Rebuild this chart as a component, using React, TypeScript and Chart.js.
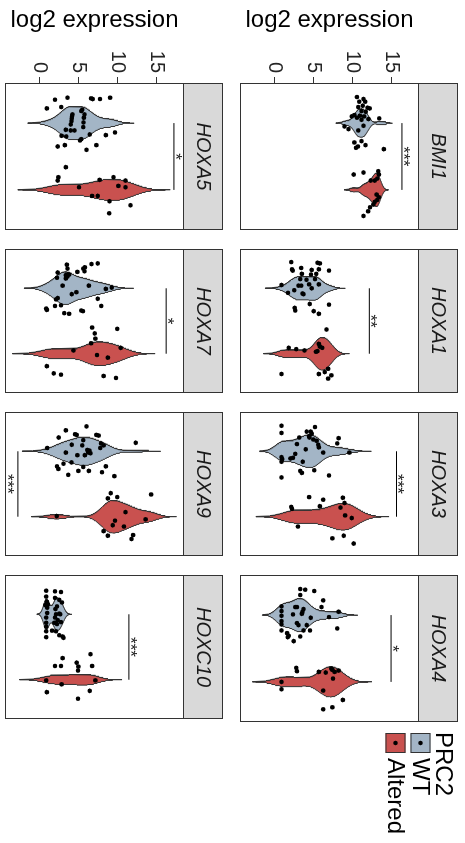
import React, { useEffect, useRef } from "react";
import { Chart, registerables } from "chart.js";

Chart.register(...registerables);

const FONT = "'Liberation Sans', Arial, Helvetica, sans-serif";

// ---------------- data ----------------
const GENES = ["BMI1", "HOXA1", "HOXA3", "HOXA4", "HOXA5", "HOXA7", "HOXA9", "HOXC10"];
const GROUPS = ["WT", "Altered"];
const GROUP_COLORS = ["#A3B5C6", "#C9514F"];
const LEGEND_TITLE = "PRC2";
const Y_TITLE = "log2 expression";
const Y_TICKS = [0, 5, 10, 15];
const Y_MIN = -4.46;
const Y_MAX = 18.6;

// expression values (log2) and horizontal jitter offsets of each sample
const BMI1_WT = [10.6, 11.45, 10.9, 11.66, 11.36, 10.77, 11.96, 12.25, 11.2, 11.74, 10.27, 10.98, 11.53, 9.93, 10.6, 11.2, 13.48, 12.08, 9.0, 9.51, 10.77, 11.45, 10.27, 10.73, 11.7, 10.48, 14.07, 11.2];
const BMI1_WT_J = [-0.39, -0.36, -0.32, -0.32, -0.26, -0.24, -0.23, -0.22, -0.18, -0.17, -0.12, -0.11, -0.1, -0.1, -0.08, -0.05, -0.07, -0.06, 0.05, 0.09, 0.11, 0.04, 0.29, 0.35, 0.33, 0.37, 0.39, 0.27];
const BMI1_ALT = [10.18, 11.45, 13.35, 13.43, 13.22, 12.89, 12.38, 13.14, 13.43, 13.22, 12.89, 12.72, 12.29, 12.04, 11.45];
const BMI1_ALT_J = [-0.23, -0.26, -0.28, -0.23, -0.17, -0.14, -0.14, 0.07, 0.11, 0.15, 0.18, 0.22, 0.26, 0.32, 0.39];

const HOXA1_WT = [2.15, 5.53, 5.83, 2.24, 3.42, 4.77, 5.7, 7.01, 2.32, 3.51, 4.69, 5.37, 3.3, 4.1, 5.2, 0.89, 3.08, 3.42, 4.44, 5.7, 2.53, 4.77, 1.73, 3.59, 3.72, 4.52, 7.01, 2.58, 2.66, 5.03, 5.7];
const HOXA1_WT_J = [-0.4, -0.39, -0.38, -0.29, -0.31, -0.28, -0.29, -0.27, -0.27, -0.22, -0.21, -0.22, -0.14, -0.13, -0.14, -0.05, -0.04, -0.04, -0.06, -0.06, 0.03, 0.0, 0.07, 0.08, 0.09, 0.24, 0.25, 0.3, 0.34, 0.35, 0.39];
const HOXA1_ALT = [6.68, 1.82, 2.79, 3.84, 5.7, 5.83, 6.13, 5.53, 5.32, 0.89, 5.7, 6.46, 6.89, 7.31, 6.89];
const HOXA1_ALT_J = [-0.37, -0.09, -0.07, -0.05, -0.15, -0.11, -0.09, -0.04, -0.03, 0.31, 0.31, 0.28, 0.23, 0.33, 0.38];

const HOXA3_WT = [0.89, 0.89, 5.2, 4.14, 4.65, 4.77, 3.17, 4.48, 4.99, 8.24, 8.07, 2.87, 5.62, 5.7, 4.01, 6.25, 2.66, 0.89, 0.97, 2.03, 2.37, 0.89, 3.63, 9.63, 5.11, 3.3, 3.51, 0.89, 7.01, 4.44, 5.41];
const HOXA3_WT_J = [-0.39, -0.28, -0.37, -0.3, -0.3, -0.27, -0.21, -0.21, -0.18, -0.2, -0.12, -0.11, -0.1, -0.06, -0.03, 0.02, 0.04, 0.09, 0.12, 0.11, 0.1, 0.16, 0.16, 0.02, 0.29, 0.3, 0.33, 0.4, 0.37, -0.23, -0.16];
const HOXA3_ALT = [4.44, 6.25, 2.15, 2.24, 5.83, 8.79, 9.0, 8.49, 9.08, 9.93, 3.0, 8.91, 7.44, 10.18];
const HOXA3_ALT_J = [-0.3, -0.26, -0.15, -0.12, -0.16, -0.29, -0.21, -0.14, -0.02, 0.02, 0.15, 0.29, 0.33, 0.41];

const HOXA4_WT = [3.3, 3.93, 5.11, 3.3, 6.25, 6.04, 0.89, 2.66, 2.87, 3.72, 3.59, 3.51, 0.89, 0.89, 2.37, 4.65, 8.24, 7.01, 0.89, 0.89, 2.87, 3.08, 4.14, 8.07, 0.89, 3.72, 4.56, 1.61, 1.82, 1.69, 3.3, 2.45];
const HOXA4_WT_J = [-0.39, -0.38, -0.36, -0.3, -0.22, -0.12, -0.13, -0.12, -0.12, -0.09, -0.05, -0.02, -0.06, 0.01, -0.01, 0.04, -0.05, 0.03, 0.09, 0.14, 0.12, 0.15, 0.15, 0.2, 0.23, 0.23, 0.23, 0.27, 0.31, 0.33, 0.32, 0.39];
const HOXA4_ALT = [2.79, 2.87, 5.7, 6.59, 7.31, 7.44, 8.24, 7.73, 7.52, 0.89, 0.89, 6.25, 8.79, 7.44, 6.25];
const HOXA4_ALT_J = [-0.21, -0.16, -0.15, -0.14, -0.2, -0.18, -0.17, -0.15, -0.05, 0.0, 0.11, 0.13, 0.27, 0.38, 0.41];

const HOXA5_WT = [1.99, 3.59, 6.63, 6.84, 7.77, 9.08, 0.93, 2.79, 5.49, 5.37, 4.22, 4.18, 4.14, 4.1, 4.01, 5.79, 5.7, 5.66, 5.62, 3.38, 4.01, 4.48, 2.83, 3.42, 6.46, 8.53, 9.72, 5.37, 5.2, 2.32, 3.25, 7.31, 6.04];
const HOXA5_WT_J = [-0.35, -0.38, -0.37, -0.36, -0.36, -0.38, -0.22, -0.24, -0.2, -0.18, -0.13, -0.1, -0.07, -0.03, 0.02, -0.13, -0.08, -0.01, 0.06, 0.1, 0.11, 0.11, 0.19, 0.2, 0.17, 0.18, 0.14, 0.24, 0.26, 0.35, 0.33, 0.33, 0.4];
const HOXA5_ALT = [3.38, 2.41, 2.32, 5.07, 7.73, 9.51, 11.07, 10.14, 11.07, 6.76, 7.48, 9.0, 11.7, 8.96];
const HOXA5_ALT_J = [-0.34, -0.19, -0.14, -0.04, -0.15, -0.19, -0.14, -0.06, -0.04, 0.09, 0.09, 0.17, 0.23, 0.35];

const HOXA7_WT = [3.51, 3.59, 6.68, 7.48, 5.83, 5.62, 5.79, 4.86, 2.32, 3.8, 3.38, 2.24, 3.38, 3.59, 2.96, 6.34, 8.53, 9.29, 2.32, 2.11, 4.14, 4.73, 7.48, 0.84, 0.93, 1.99, 2.75, 7.94, 3.17, 3.8, 5.37, 5.58, 3.59];
const HOXA7_WT_J = [-0.36, -0.3, -0.37, -0.38, -0.32, -0.3, -0.26, -0.25, -0.24, -0.21, -0.2, -0.16, -0.15, -0.18, -0.04, -0.04, 0.01, -0.01, 0.15, 0.17, 0.09, 0.06, 0.16, 0.31, 0.33, 0.27, 0.26, 0.27, 0.38, 0.39, 0.34, 0.35, -0.21];
const HOXA7_ALT = [6.76, 10.01, 7.1, 7.18, 6.63, 4.35, 7.39, 8.79, 10.44, 0.93, 1.82, 2.75, 8.24, 9.84];
const HOXA7_ALT_J = [-0.4, -0.38, -0.31, -0.23, -0.16, -0.05, 0.02, 0.06, -0.09, 0.19, 0.3, 0.32, 0.34, 0.37];

const HOXA9_WT = [3.38, 6.04, 2.45, 4.56, 4.77, 7.31, 7.6, 5.62, 4.14, 5.49, 7.9, 8.24, 7.82, 0.97, 6.13, 6.42, 6.25, 6.55, 3.38, 4.86, 5.83, 12.38, 3.08, 2.24, 2.41, 4.1, 5.62, 8.53, 4.99, 6.34, 8.03, 3.68, 9.63];
const HOXA9_WT_J = [-0.32, -0.38, -0.21, -0.26, -0.25, -0.25, -0.24, -0.17, -0.1, -0.09, -0.12, -0.09, -0.05, -0.05, -0.02, -0.01, 0.02, 0.03, 0.02, 0.06, 0.06, -0.13, 0.19, 0.23, 0.27, 0.17, 0.24, 0.23, 0.3, 0.3, 0.32, 0.36, 0.38];
const HOXA9_ALT = [9.17, 8.79, 10.01, 14.36, 2.2, 11.07, 9.72, 9.42, 10.86, 13.65, 8.24, 8.79, 12.04, 11.83];
const HOXA9_ALT_J = [-0.36, -0.28, -0.3, -0.34, -0.01, -0.07, 0.06, 0.13, 0.15, 0.04, 0.22, 0.29, 0.28, 0.34];

const HOXC10_WT = [0.84, 1.99, 2.75, 0.84, 1.99, 0.93, 2.53, 2.87, 0.72, 1.06, 2.24, 2.03, 0.97, 2.53, 2.66, 2.11, 0.84, 1.99, 2.32, 2.75, 1.9, 0.84, 0.84, 0.84, 1.61, 2.11, 2.53, 2.96, 3.08, 0.84, 2.24, 0.97];
const HOXC10_WT_J = [-0.36, -0.35, -0.34, -0.27, -0.25, -0.19, -0.22, -0.18, -0.14, -0.15, -0.12, -0.08, -0.02, -0.01, 0.0, 0.0, 0.05, 0.05, 0.09, 0.12, 0.13, 0.13, 0.19, 0.26, 0.25, 0.26, 0.32, 0.34, 0.36, 0.35, 0.15, -0.1];
const HOXC10_ALT = [6.55, 2.96, 1.99, 2.75, 4.77, 4.99, 4.94, 6.76, 0.84, 2.83, 7.18, 0.93, 6.46, 4.94];
const HOXC10_ALT_J = [-0.39, -0.33, -0.21, -0.21, -0.26, -0.2, -0.14, -0.21, 0.01, 0.07, 0.01, 0.19, 0.17, 0.29];

// significance brackets
const SIG_Y = [16.4, 12.2, 15.7, 15.0, 17.3, 16.3, -2.8, 11.5];
const SIG_LABEL = ["***", "**", "***", "*", "*", "*", "***", "***"];
const SIG_BELOW = [false, false, false, false, false, false, true, false];

const WT_VALUES = [BMI1_WT, HOXA1_WT, HOXA3_WT, HOXA4_WT, HOXA5_WT, HOXA7_WT, HOXA9_WT, HOXC10_WT];
const WT_JITTER = [BMI1_WT_J, HOXA1_WT_J, HOXA3_WT_J, HOXA4_WT_J, HOXA5_WT_J, HOXA7_WT_J, HOXA9_WT_J, HOXC10_WT_J];
const ALT_VALUES = [BMI1_ALT, HOXA1_ALT, HOXA3_ALT, HOXA4_ALT, HOXA5_ALT, HOXA7_ALT, HOXA9_ALT, HOXC10_ALT];
const ALT_JITTER = [BMI1_ALT_J, HOXA1_ALT_J, HOXA3_ALT_J, HOXA4_ALT_J, HOXA5_ALT_J, HOXA7_ALT_J, HOXA9_ALT_J, HOXC10_ALT_J];

// ---------------- layout (original, unrotated frame 843 x 465) ----------------
const FIG_W = 843;
const FIG_H = 465;
const COL_X = [83, 246, 409, 572];
const PANEL_W = 150;
const ROW_TOP = [46, 281];
const PANEL_H = 182;
const STRIP_H = 39;
const Y_AXIS_W = 83;
const VIOLIN_HALF = 0.25;

function geom(i: number) {
  const r = i < 4 ? 0 : 1;
  const c = i % 4;
  const plotLeft = COL_X[c];
  const plotRight = plotLeft + PANEL_W;
  const x0 = c === 0 ? 0 : plotLeft - 1;
  const x1 = i === 3 ? FIG_W : plotRight + 1;
  const plotTop = ROW_TOP[r];
  const y0 = plotTop - STRIP_H - 1;
  const y1 = plotTop + PANEL_H + 1;
  return {
    r, c, x0, y0, w: x1 - x0, h: y1 - y0,
    pad: { left: c === 0 ? 0 : 1, right: x1 - plotRight, top: plotTop - y0, bottom: 1 },
  };
}

function quantile(sorted: number[], p: number) {
  const h = (sorted.length - 1) * p;
  const lo = Math.floor(h);
  const hi = Math.ceil(h);
  return sorted[lo] + (h - lo) * (sorted[hi] - sorted[lo]);
}

function nrd0(x: number[]) {
  const n = x.length;
  const s = [...x].sort((a, b) => a - b);
  const mean = x.reduce((a, b) => a + b, 0) / n;
  const sd = Math.sqrt(x.reduce((a, b) => a + (b - mean) * (b - mean), 0) / (n - 1));
  const iqr = quantile(s, 0.75) - quantile(s, 0.25);
  let lo = Math.min(sd, iqr / 1.34);
  if (!lo) lo = sd || Math.abs(s[0]) || 1;
  return 0.9 * lo * Math.pow(n, -0.2);
}

function kde(vals: number[]) {
  const bw = nrd0(vals);
  const lo = Math.min(...vals) - 3 * bw;
  const hi = Math.max(...vals) + 3 * bw;
  const n = 256;
  const ys: number[] = [];
  const ds: number[] = [];
  const norm = 1 / (vals.length * bw * Math.sqrt(2 * Math.PI));
  for (let k = 0; k < n; k++) {
    const y = lo + ((hi - lo) * k) / (n - 1);
    let d = 0;
    for (const v of vals) {
      const z = (y - v) / bw;
      d += Math.exp(-0.5 * z * z);
    }
    ys.push(y);
    ds.push(d * norm);
  }
  return { ys, ds };
}

function buildChart(canvas: HTMLCanvasElement, i: number) {
  const g = geom(i);
  const groupsVals = [WT_VALUES[i], ALT_VALUES[i]];
  const groupsJit = [WT_JITTER[i], ALT_JITTER[i]];
  const dens = groupsVals.map(kde);
  const maxD = Math.max(...dens.map((d) => Math.max(...d.ds)));

  const violinSets = dens.map((d, gi) => {
    const cx = gi + 1;
    const right = d.ys.map((y, k) => ({ x: cx + (VIOLIN_HALF * d.ds[k]) / maxD, y }));
    const left = d.ys.map((y, k) => ({ x: cx - (VIOLIN_HALF * d.ds[k]) / maxD, y })).reverse();
    return {
      type: "line" as const,
      data: [...right, ...left, right[0]],
      borderColor: "#333333",
      borderWidth: 1,
      backgroundColor: GROUP_COLORS[gi],
      fill: "shape" as any,
      pointRadius: 0,
      tension: 0,
      order: 3,
    };
  });

  const pointSets = groupsVals.map((vals, gi) => ({
    type: "line" as const,
    data: vals.map((v, k) => ({ x: gi + 1 + groupsJit[gi][k], y: v })),
    showLine: false,
    pointRadius: 2.3,
    pointBackgroundColor: "#000000",
    pointBorderWidth: 0,
    borderColor: "#000000",
    order: 0,
  }));

  const sigSet = {
    type: "line" as const,
    data: [
      { x: 1, y: SIG_Y[i] },
      { x: 2, y: SIG_Y[i] },
    ],
    borderColor: "#000000",
    borderWidth: 1,
    pointRadius: 0,
    fill: false,
    order: 1,
  };

  const deco = {
    id: "deco" + i,
    afterDatasetsDraw(chart: any) {
      const { ctx, scales } = chart;
      const x = scales.x.getPixelForValue(1.5);
      const y = scales.y.getPixelForValue(SIG_Y[i]) + (SIG_BELOW[i] ? 16 : 4);
      ctx.save();
      ctx.fillStyle = "#222222";
      ctx.font = `17px ${FONT}`;
      ctx.textAlign = "center";
      ctx.textBaseline = "alphabetic";
      ctx.fillText(SIG_LABEL[i], x, y);
      ctx.restore();
    },
    afterDraw(chart: any) {
      const { ctx, chartArea: a } = chart;
      const w = a.right - a.left;
      ctx.save();
      // strip
      ctx.fillStyle = "#D9D9D9";
      ctx.fillRect(a.left, a.top - STRIP_H, w, STRIP_H);
      ctx.strokeStyle = "#333333";
      ctx.lineWidth = 1;
      ctx.strokeRect(a.left + 0.5, a.top - STRIP_H + 0.5, w - 1, STRIP_H);
      ctx.fillStyle = "#1A1A1A";
      ctx.font = `italic 20px ${FONT}`;
      ctx.textAlign = "center";
      ctx.textBaseline = "middle";
      ctx.fillText(GENES[i], a.left + w / 2, a.top - STRIP_H / 2 + 1);
      // panel border
      ctx.strokeRect(a.left + 0.5, a.top + 0.5, w - 1, a.bottom - a.top - 1);
      ctx.restore();

      if (i === 3) {
        // legend (positions in figure frame, converted to this canvas)
        const lx = 732 - g.x0;
        ctx.save();
        ctx.fillStyle = "#000000";
        ctx.font = `24px ${FONT}`;
        ctx.textAlign = "left";
        ctx.textBaseline = "middle";
        ctx.fillText(LEGEND_TITLE, lx, 22 - g.y0);
        GROUPS.forEach((name, gi) => {
          const top = 34.5 + gi * 25 - g.y0;
          ctx.fillStyle = GROUP_COLORS[gi];
          ctx.fillRect(lx + 1, top, 20, 20);
          ctx.strokeStyle = "#333333";
          ctx.lineWidth = 1;
          ctx.strokeRect(lx + 1.5, top + 0.5, 19, 19);
          ctx.fillStyle = "#000000";
          ctx.beginPath();
          ctx.arc(lx + 11, top + 10, 2.2, 0, Math.PI * 2);
          ctx.fill();
          ctx.font = `24px ${FONT}`;
          ctx.fillText(name, lx + 26, top + 11);
        });
        ctx.restore();
      }
    },
  };

  const isFirst = g.c === 0;

  return new Chart(canvas, {
    type: "line",
    data: { datasets: [...pointSets, sigSet, ...violinSets] as any },
    options: {
      animation: false,
      responsive: false,
      devicePixelRatio: 1,
      events: [],
      layout: { padding: g.pad },
      plugins: { legend: { display: false }, tooltip: { enabled: false }, title: { display: false } },
      scales: {
        x: { type: "linear", min: 0.4, max: 2.6, display: false },
        y: {
          type: "linear",
          min: Y_MIN,
          max: Y_MAX,
          display: isFirst,
          afterBuildTicks: (s: any) => {
            s.ticks = Y_TICKS.map((v) => ({ value: v }));
          },
          afterFit: (s: any) => {
            if (!isFirst) return;
            s.width = Y_AXIS_W;
            s.paddingTop = 0;
            s.paddingBottom = 0;
          },
          ticks: {
            autoSkip: false,
            padding: 4,
            color: "#262626",
            font: { family: FONT, size: 20 },
          },
          grid: { drawOnChartArea: false, drawTicks: true, tickLength: 6, color: "#333333", lineWidth: 1 },
          border: { display: false },
          title: {
            display: true,
            text: Y_TITLE,
            color: "#000000",
            font: { family: FONT, size: 24, lineHeight: 1.2 },
            padding: { top: 6, bottom: 0 },
          },
        },
      },
    } as any,
    plugins: [deco],
  });
}

export default function App() {
  const refs = useRef<(HTMLCanvasElement | null)[]>([]);
  useEffect(() => {
    document.documentElement.style.overflow = "hidden";
    document.body.style.margin = "0";
    document.body.style.overflow = "hidden";
    const charts = GENES.map((_, i) => buildChart(refs.current[i] as HTMLCanvasElement, i));
    return () => charts.forEach((c) => c.destroy());
  }, []);

  return (
    <div
      style={{
        position: "absolute",
        left: 0,
        top: 0,
        width: FIG_W,
        height: FIG_H,
        background: "#ffffff",
        transformOrigin: "0 0",
        transform: `translate(${FIG_H}px, 0px) rotate(90deg)`,
      }}
    >
      {GENES.map((_, i) => {
        const g = geom(i);
        return (
          <canvas
            key={i}
            ref={(el) => {
              refs.current[i] = el;
            }}
            width={g.w}
            height={g.h}
            style={{ position: "absolute", left: g.x0, top: g.y0, width: g.w, height: g.h }}
          />
        );
      })}
    </div>
  );
}
